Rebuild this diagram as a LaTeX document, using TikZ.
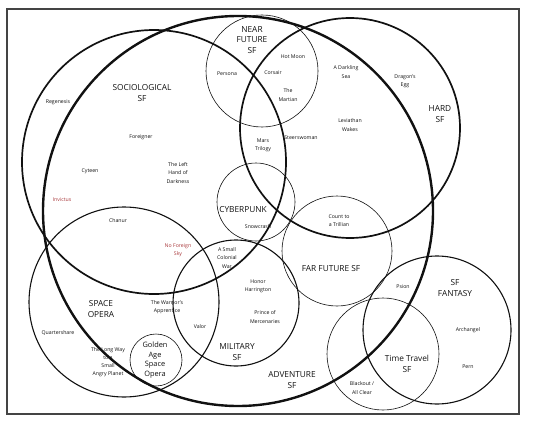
\documentclass[tikz,border=0pt]{standalone}
\usepackage{fontspec}
\setmainfont{Open Sans}
\definecolor{VennInk}{HTML}{111111}
\definecolor{VennRed}{HTML}{A8383B}
\definecolor{VennFrame}{HTML}{444444}
\tikzset{
  ringheavy/.style = {draw=VennInk, line width=2.4pt},
  ringbold/.style  = {draw=VennInk, line width=1.7pt},
  ringmid/.style   = {draw=VennInk, line width=1.1pt},
  ringthin/.style  = {draw=VennInk, line width=0.6pt},
  genrelbl/.style  = {font=\fontsize{8.3}{10.5}\selectfont, align=center,
                      inner sep=0pt, text=VennInk},
  goldlbl/.style   = {genrelbl, font=\fontsize{7.4}{9.6}\selectfont},
  booklbl/.style   = {font=\fontsize{5.2}{8.2}\selectfont, align=center,
                      inner sep=0pt, text=VennInk},
  booklblred/.style= {booklbl, text=VennRed},
}

\begin{document}
\begin{tikzpicture}[x=1pt, y=-1pt]
    \useasboundingbox (0,0) rectangle (540,425);
    \draw[VennFrame, line width=1.1pt] (7,9) rectangle (519,414);

    % genre circles
    \coordinate (adv) at (238,211);
    \coordinate (soc) at (154,162);
    \coordinate (hard) at (350,128);
    \coordinate (near) at (262,71);
    \coordinate (cyber) at (256,202);
    \coordinate (far) at (337,251);
    \coordinate (opera) at (124,302);
    \coordinate (mil) at (236,303);
    \coordinate (gold) at (156,360);
    \coordinate (fant) at (437,330);
    \coordinate (time) at (383,354);

    % book titles
    \node[booklbl] (persona) at (227,74) {Persona};
    \node[booklbl] (corsair) at (273,73) {Corsair};
    \node[booklbl] (hotmoon) at (293,57) {Hot Moon};
    \node[booklbl] (martian) at (288,95) {The\\Martian};
    \node[booklbl] (darkling) at (346,72) {A Darkling\\Sea};
    \node[booklbl] (dragon) at (405,81) {Dragon's\\Egg};
    \node[booklbl] (leviathan) at (350,125) {Leviathan\\Wakes};
    \node[booklbl] (steers) at (301,138) {Steerswoman};
    \node[booklbl] (mars) at (263,145) {Mars\\Trilogy};
    \node[booklbl] (regen) at (58,102) {Regenesis};
    \node[booklbl] (foreign) at (141,137) {Foreigner};
    \node[booklbl] (cyteen) at (90,171) {Cyteen};
    \node[booklbl] (lefthand) at (178,173) {The Left\\Hand of\\Darkness};
    \node[booklblred] (invictus) at (62,200) {Invictus};
    \node[booklbl] (chanur) at (118,221) {Chanur};
    \node[booklblred] (noforeign) at (178,250) {No Foreign\\Sky};
    \node[booklbl] (snow) at (258,227) {Snowcrash};
    \node[booklbl] (trillian) at (339,221) {Count to\\a Trillian};
    \node[booklbl] (colonial) at (227,258) {A Small\\Colonial\\War};
    \node[booklbl] (psion) at (403,287) {Psion};
    \node[booklbl] (honor) at (258,286) {Honor\\Harrington};
    \node[booklbl] (prince) at (265,317) {Prince of\\Mercenaries};
    \node[booklbl] (warrior) at (167,307) {The Warrior's\\Apprentice};
    \node[booklbl] (quarter) at (58,333) {Quartershare};
    \node[booklbl] (valor) at (200,327) {Valor};
    \node[booklbl] (archangel) at (468,330) {Archangel};
    \node[booklbl] (pern) at (468,367) {Pern};
    \node[booklbl] (longway) at (108,362) {The Long Way\\to a\\Small\\Angry Planet};
    \node[booklbl] (blackout) at (362,388) {Blackout /\\All Clear};

    % genre names
    \node[genrelbl] (nearlbl) at (252,40) {NEAR\\FUTURE\\SF};
    \node[genrelbl] (hardlbl) at (440,114) {HARD\\SF};
    \node[genrelbl] (soclbl) at (142,93) {SOCIOLOGICAL\\SF};
    \node[genrelbl] (cyberlbl) at (243,210) {CYBERPUNK};
    \node[genrelbl] (farlbl) at (331,269) {FAR FUTURE SF};
    \node[genrelbl] (fantlbl) at (455,288) {SF\\FANTASY};
    \node[genrelbl] (operalbl) at (101,309) {SPACE\\OPERA};
    \node[genrelbl] (millbl) at (237,352) {MILITARY\\SF};
    \node[genrelbl] (advlbl) at (292,380) {ADVENTURE\\SF};
    \node[genrelbl] (timelbl) at (407,364) {Time Travel\\SF};
    \node[goldlbl] (goldlbl) at (155,360) {Golden\\Age\\Space\\Opera};

    \draw[ringthin] (near) circle[radius=56pt];
    \draw[ringthin] (cyber) circle[radius=39pt];
    \draw[ringthin] (far) circle[radius=55pt];
    \draw[ringthin] (gold) circle[radius=26pt];
    \draw[ringthin] (time) circle[radius=56pt];
    \draw[ringmid] (opera) circle[radius=95pt];
    \draw[ringmid] (mil) circle[radius=63pt];
    \draw[ringmid] (fant) circle[radius=74pt];
    \draw[ringbold] (hard) circle[radius=110pt];
    \draw[ringbold] (soc) circle[radius=132pt];
    \draw[ringheavy] (adv) circle[radius=195pt];
\end{tikzpicture}
\end{document}
